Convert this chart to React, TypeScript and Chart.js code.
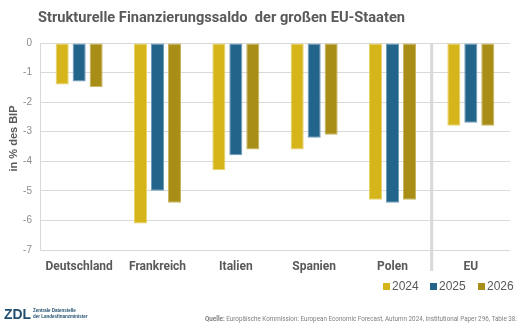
import React, { useEffect, useRef } from "react";
import { Chart, registerables } from "chart.js";

Chart.register(...registerables);

const categories = ["Deutschland", "Frankreich", "Italien", "Spanien", "Polen", "EU"];
const years = ["2024", "2025", "2026"];
const values2024 = [-1.4, -6.1, -4.3, -3.6, -5.3, -2.8];
const values2025 = [-1.3, -5.0, -3.8, -3.2, -5.4, -2.7];
const values2026 = [-1.5, -5.4, -3.6, -3.1, -5.3, -2.8];
const colors = ["#D5B51A", "#23648B", "#A88E16"];
const borders = ["#E8D36A", "#6F9CBB", "#C9B560"];
const yTicks = [0, -1, -2, -3, -4, -5, -6, -7];

const titleText = "Strukturelle Finanzierungssaldo  der großen EU-Staaten";
const yTitle = "in % des BIP";
const sourceLabel = "Quelle:";
const sourceText = " Europäische Kommission: European Economic Forecast, Autumn 2024, Institutional Paper 296, Table 38.";

function fitText(ctx: any, draw: () => void, x: number, y: number, natural: number, target: number) {
  ctx.save();
  ctx.translate(x, y);
  ctx.scale(target / natural, 1);
  draw();
  ctx.restore();
}

const decor = {
  id: "decor",
  afterDraw(chart: any) {
    const ctx = chart.ctx;
    const area = chart.chartArea;
    const x = chart.scales.x;
    ctx.save();
    // title
    ctx.fillStyle = "#595959";
    ctx.font = "bold 15px Roboto, 'Liberation Sans', sans-serif";
    ctx.textBaseline = "middle";
    ctx.textAlign = "left";
    const tw = ctx.measureText(titleText).width;
    fitText(ctx, () => ctx.fillText(titleText, 0, 0), 38, 18, tw, 367);
    // y title
    ctx.save();
    ctx.translate(14, (area.top + area.bottom) / 2 - 8);
    ctx.rotate(-Math.PI / 2);
    ctx.textAlign = "center";
    ctx.font = "bold 11px 'Liberation Sans', Arial, sans-serif";
    ctx.fillStyle = "#595959";
    ctx.fillText(yTitle, 0, 0);
    ctx.restore();
    // separator between Polen and EU
    const sx = (x.getPixelForValue(4) + x.getPixelForValue(5)) / 2;
    ctx.strokeStyle = "#D9D9D9";
    ctx.lineWidth = 3;
    ctx.beginPath();
    ctx.moveTo(sx, area.top);
    ctx.lineTo(sx, 271);
    ctx.stroke();
    // legend
    const lx = [383, 430, 478];
    ctx.font = "12px 'Liberation Sans', Arial, sans-serif";
    ctx.textAlign = "left";
    ctx.textBaseline = "middle";
    years.forEach((y, i) => {
      ctx.fillStyle = colors[i];
      ctx.fillRect(lx[i], 283, 7, 7);
      ctx.fillStyle = "#595959";
      ctx.fillText(y, lx[i] + 9, 287);
    });
    // source
    ctx.fillStyle = "#7F7F7F";
    ctx.textAlign = "left";
    const boldFont = "bold 7px Roboto, 'Liberation Sans', sans-serif";
    const normFont = "7px Roboto, 'Liberation Sans', sans-serif";
    ctx.font = boldFont;
    const qw = ctx.measureText(sourceLabel).width;
    ctx.font = normFont;
    const sw = ctx.measureText(sourceText).width;
    fitText(
      ctx,
      () => {
        ctx.font = boldFont;
        ctx.fillText(sourceLabel, 0, 0);
        ctx.font = normFont;
        ctx.fillText(sourceText, qw, 0);
      },
      205,
      319,
      qw + sw,
      312
    );
    // logo
    ctx.fillStyle = "#1F4E6E";
    ctx.font = "bold 15px 'Liberation Sans', Arial, sans-serif";
    const lw = ctx.measureText("ZDL").width;
    fitText(ctx, () => ctx.fillText("ZDL", 0, 0), 4, 315, lw, 27);
    ctx.font = "bold 4.5px 'Liberation Sans', Arial, sans-serif";
    ctx.fillText("Zentrale Datenstelle", 33, 311);
    ctx.fillText("der Landesfinanzminister", 33, 317);
    ctx.restore();
  },
};

export default function App() {
  const ref = useRef<HTMLCanvasElement>(null);
  useEffect(() => {
    document.body.style.margin = "0";
    const chart = new Chart(ref.current!, {
      type: "bar",
      data: {
        labels: categories,
        datasets: [values2024, values2025, values2026].map((d, i) => ({
          label: years[i],
          data: d,
          backgroundColor: colors[i],
          borderColor: borders[i],
          borderWidth: 1,
          borderSkipped: false,
          categoryPercentage: 0.65,
          barPercentage: 0.77,
        })),
      },
      options: {
        animation: false,
        responsive: false,
        layout: { padding: { top: 43, right: 13, left: 0, bottom: 0 } },
        plugins: { legend: { display: false }, title: { display: false }, tooltip: { enabled: false } },
        scales: {
          x: {
            grid: { display: false, drawTicks: false },
            border: { display: false },
            ticks: {
              padding: 10,
              color: "#595959",
              font: { family: "Roboto, 'Liberation Sans', sans-serif", size: 12, weight: "bold" },
            },
            afterFit: (s: any) => { s.height = 78; },
          },
          y: {
            min: -7,
            max: 0,
            afterBuildTicks: (s: any) => { s.ticks = yTicks.map((v) => ({ value: v })); },
            grid: { color: "#D9D9D9", lineWidth: 1, drawTicks: false },
            border: { display: true, color: "#D9D9D9" },
            ticks: {
              padding: 8,
              color: "#8C8C8C",
              font: { family: "'Liberation Sans', Arial, sans-serif", size: 10 },
            },
            afterFit: (s: any) => { s.width = 40; },
          },
        },
      },
      plugins: [decor],
    });
    return () => chart.destroy();
  }, []);
  return (
    <div style={{ width: 523, height: 328, background: "#fff" }}>
      <canvas ref={ref} width={523} height={328} />
    </div>
  );
}
